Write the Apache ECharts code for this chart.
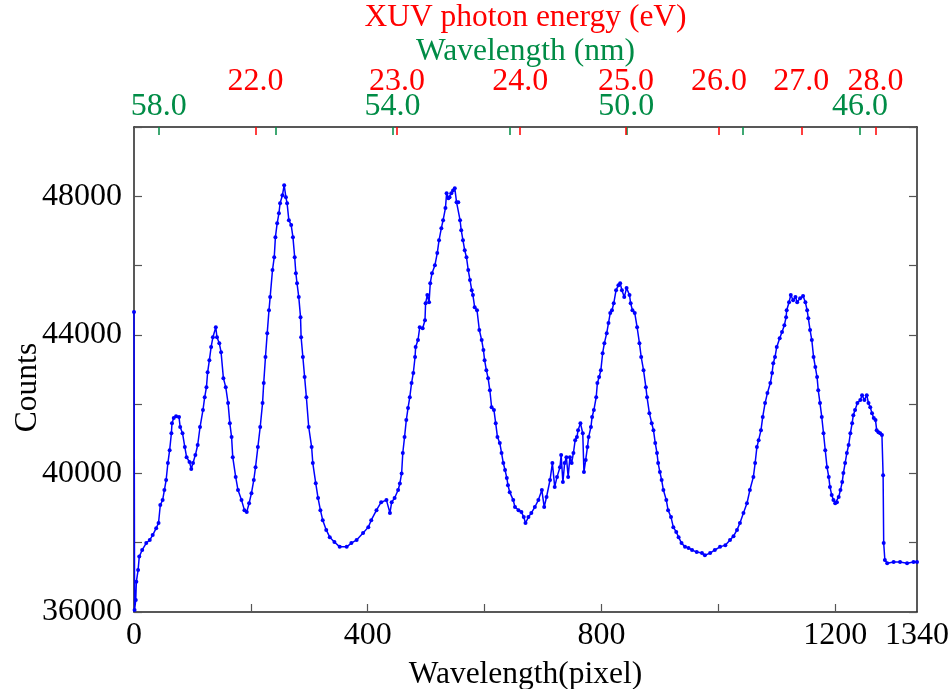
<!DOCTYPE html>
<html>
<head>
<meta charset="utf-8">
<script src="https://cdn.jsdelivr.net/npm/echarts@6/dist/echarts.min.js"></script>
<style>
html,body{margin:0;padding:0;background:#fff;}
#chart{width:952px;height:689px;}
</style>
</head>
<body>
<div id="chart"></div>
<script>
// Detector pixel positions and counts
const pixel = [0,1,3,4,7,9,14,21,27,32,38,42,45,49,52,55,58,61,64,65,68,72,77,79,83,87,90,95,98,101,105,109,113,118,121,124,126,129,132,135,140,142,146,149,153,157,161,164,167,169,174,178,184,189,193,197,201,205,208,212,216,220,222,225,228,231,233,237,240,242,245,248,250,254,257,260,262,265,269,272,275,277,279,282,285,286,289,292,295,299,304,306,311,315,319,323,329,335,343,352,364,372,381,392,401,406,415,423,432,438,441,446,452,455,458,460,463,466,469,472,475,478,481,482,486,489,494,498,499,502,505,507,510,515,519,522,526,529,533,535,538,540,543,546,549,552,555,558,560,563,566,569,572,575,578,580,583,587,591,595,598,600,603,606,609,612,616,619,622,626,629,632,635,638,640,643,649,652,658,663,667,670,675,680,686,692,698,702,706,712,716,720,724,729,731,734,737,740,743,746,749,752,755,758,760,764,768,770,773,776,778,782,784,787,791,793,796,799,802,805,809,812,815,818,821,825,829,832,835,839,843,848,850,853,857,861,865,868,872,876,878,882,886,889,892,895,897,900,903,906,911,914,919,923,928,932,937,943,949,955,963,972,977,986,994,1003,1012,1020,1026,1032,1037,1043,1049,1054,1060,1063,1066,1069,1073,1076,1080,1084,1089,1092,1094,1097,1100,1105,1109,1113,1116,1117,1121,1124,1128,1132,1135,1140,1145,1149,1152,1154,1157,1160,1163,1166,1169,1171,1174,1177,1180,1183,1186,1189,1191,1194,1197,1200,1203,1206,1209,1212,1214,1217,1220,1223,1226,1229,1231,1234,1238,1243,1246,1250,1254,1257,1260,1263,1266,1269,1271,1274,1277,1280,1282,1283,1285,1289,1300,1311,1323,1334,1340];
const counts = [44660,36060,36350,36870,37210,37600,37790,37990,38080,38220,38420,38570,39090,39230,39520,39810,40300,40670,41160,41450,41600,41650,41630,41340,41160,40760,40470,40330,40130,40300,40530,40820,41340,41830,42200,42490,42920,43270,43650,43930,44220,43930,43760,43500,42750,42490,42030,41450,41050,40470,39900,39520,39230,38940,38890,39140,39430,39810,40180,40760,41340,42030,42610,43360,44050,44710,45090,45870,46240,46820,47220,47510,47800,48030,48320,47970,47800,47310,47170,46820,46240,45780,45490,45090,44510,43930,43360,42780,42200,41340,40760,40300,39720,39290,38940,38650,38370,38160,38020,37880,37880,37990,38080,38280,38450,38650,38940,39170,39230,38860,39170,39290,39520,39710,40000,40590,41050,41540,41890,42200,42610,42900,43360,43650,43850,44220,44190,44420,44910,45150,44940,45490,45780,46010,46360,46730,47080,47310,47660,48090,47940,47970,48090,48170,48230,47830,47830,47310,47020,46730,46440,46240,45870,45580,45290,45150,44800,44710,44140,43850,43560,43270,42980,42750,42400,41910,41830,41450,41050,40880,40590,40300,40100,39870,39660,39460,39230,39030,38940,38890,38740,38570,38740,38860,39030,39230,39520,39030,39320,39810,40300,39610,39900,40180,40530,39750,40300,40470,39900,40470,40300,40590,40960,41050,41250,41450,41160,40040,40390,40760,41050,41340,41630,41830,42200,42610,42780,42980,43470,43760,44050,44340,44630,44710,44910,45290,45430,45490,45290,45090,45350,45150,44910,44710,44630,44220,43760,43360,42980,42490,42200,41740,41450,41250,40880,40590,40300,40040,39810,39520,39230,38940,38740,38450,38310,38160,37990,37880,37850,37790,37730,37700,37640,37700,37790,37880,37930,38080,38190,38370,38570,38860,39140,39520,39900,40300,40760,40960,41250,41630,42030,42320,42610,42900,43180,43360,43650,43900,44080,44280,44510,44710,44940,45150,45000,45090,44940,45060,45120,44940,44710,44480,44140,43850,43360,43070,42780,42400,42030,41630,41160,40670,40180,39900,39610,39380,39230,39140,39170,39320,39520,39750,40010,40300,40590,40820,41160,41450,41680,41830,42030,42120,42260,42120,42260,42030,41910,41740,41600,41540,41250,41190,41160,41110,39950,37990,37500,37410,37440,37440,37410,37440,37440];

// Bottom axis ticks / labels (detector pixel)
const pixelTicks = [200,400,600,800,1000,1200];
const pixelLabels = [0,400,800,1200,1340];

// Top axis: wavelength (nm), calibration lambda = wlAtPixel0 - nmPerPixel * pixel
const wlAtPixel0 = 58.425;
const nmPerPixel = 0.01;
const wavelengthTicks = [46,48,50,52,54,56,58];
const wavelengthLabels = [46,50,54,58];

// Top axis: XUV photon energy (eV) tick positions, in detector pixels, as marked on the reference
const energyTicks = [22,23,24,25,26,27,28];
const energyTickPixel = [208,450,661,842,1001,1142,1269];

const FONT = "'Liberation Serif','Times New Roman',serif";
const RED = '#ff0000';
const GREEN = '#008c46';
const FRAME = '#222222';
const TICK = '#555555';

const chart = echarts.init(document.getElementById('chart'), null, {renderer:'canvas'});
const pixMax = 1340;

chart.setOption({
  animation: false,
  backgroundColor: '#ffffff',
  grid: {left:134, right:35, top:127, bottom:77, containLabel:false, outerBoundsMode:'none'},
  xAxis: [
    {
      type:'value', position:'bottom', min:0, max:pixMax,
      axisLine:{show:true, onZero:false, lineStyle:{color:FRAME, width:1.5}},
      axisTick:{show:true, inside:true, length:8, customValues:pixelTicks, lineStyle:{color:TICK, width:1.2}},
      axisLabel:{show:true, customValues:pixelLabels, margin:8, color:'#000', fontSize:32, fontFamily:FONT,
                 formatter:(v)=>String(v), hideOverlap:false},
      splitLine:{show:false},
      name:'Wavelength(pixel)', nameLocation:'middle', nameGap:47, nameMoveOverlap:false,
      nameTextStyle:{color:'#000', fontSize:31.5, fontFamily:FONT}
    },
    {
      type:'value', position:'top', inverse:true,
      min: wlAtPixel0 - nmPerPixel*pixMax, max: wlAtPixel0,
      axisLine:{show:true, onZero:false, lineStyle:{color:FRAME, width:1.5}},
      axisTick:{show:true, inside:true, length:8, customValues:wavelengthTicks, lineStyle:{color:GREEN, width:1.5}},
      axisLabel:{show:true, customValues:wavelengthLabels, margin:4, color:GREEN, fontSize:32, fontFamily:FONT,
                 formatter:(v)=>v.toFixed(1), hideOverlap:false},
      splitLine:{show:false},
      name:'Wavelength (nm)', nameLocation:'middle', nameGap:59, nameMoveOverlap:false,
      nameTextStyle:{color:GREEN, fontSize:31.5, fontFamily:FONT}
    },
    {
      type:'value', position:'top', min:0, max:pixMax,
      axisLine:{show:false},
      axisTick:{show:true, inside:true, length:8, customValues:energyTickPixel, lineStyle:{color:RED, width:1.5}},
      axisLabel:{show:true, customValues:energyTickPixel, margin:29, color:RED, fontSize:32, fontFamily:FONT, hideOverlap:false,
                 formatter:(v)=>{const i=energyTickPixel.indexOf(v); return i>=0?energyTicks[i].toFixed(1):'';}},
      splitLine:{show:false},
      name:'XUV photon energy (eV)', nameLocation:'middle', nameGap:93, nameMoveOverlap:false,
      nameTextStyle:{color:RED, fontSize:31.5, fontFamily:FONT}
    }
  ],
  yAxis: [
    {
      type:'value', position:'left', min:36000, max:50000, interval:2000,
      axisLine:{show:true, onZero:false, lineStyle:{color:FRAME, width:1.5}},
      axisTick:{show:true, inside:true, length:8, lineStyle:{color:TICK, width:1.2}},
      axisLabel:{show:true, margin:12, color:'#000', fontSize:32, fontFamily:FONT,
                 formatter:(v)=> (v%4000===0 && v<50000) ? String(v) : ''},
      splitLine:{show:false},
      name:'Counts', nameLocation:'middle', nameGap:90, nameMoveOverlap:false,
      nameTextStyle:{color:'#000', fontSize:31.5, fontFamily:FONT, padding:[0,36,0,0]}
    },
    {
      type:'value', position:'right', min:36000, max:50000, interval:2000,
      axisLine:{show:true, onZero:false, lineStyle:{color:FRAME, width:1.5}},
      axisTick:{show:true, inside:true, length:8, lineStyle:{color:TICK, width:1.2}},
      axisLabel:{show:false},
      splitLine:{show:false}
    }
  ],
  series: [
    {
      type:'line', xAxisIndex:0, yAxisIndex:0,
      data: pixel.map((p,i)=>[p, counts[i]]),
      symbol:'circle', symbolSize:4, showSymbol:true,
      lineStyle:{color:'#0000ff', width:1.5},
      itemStyle:{color:'#0000ff'},
      clip:true
    }
  ]
});
</script>
</body>
</html>
